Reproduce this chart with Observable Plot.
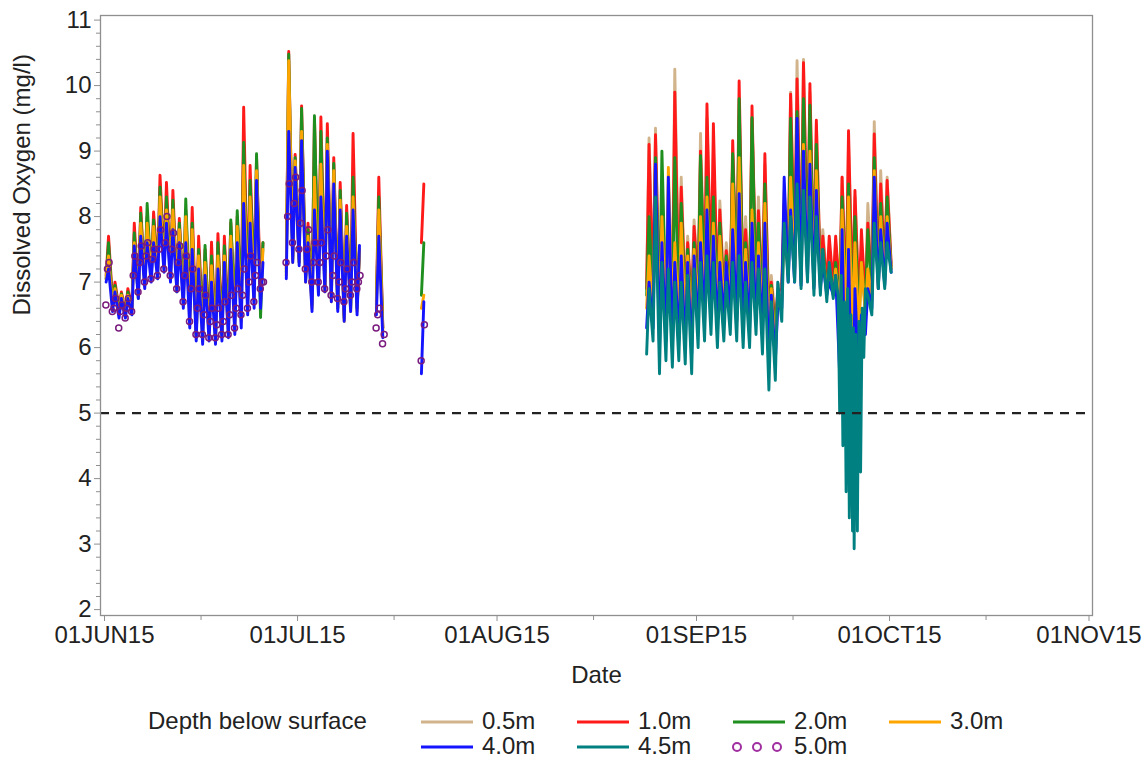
<!DOCTYPE html>
<html><head><meta charset="utf-8">
<script src="https://cdn.jsdelivr.net/npm/d3@7"></script>
<script src="https://cdn.jsdelivr.net/npm/@observablehq/plot@0.6"></script>
<style>
body{margin:0;background:#fff;font-family:"Liberation Sans",Arial,sans-serif;}
#wrap{width:1148px;}
#wrap svg{display:block;}
</style></head><body><div id="wrap"></div>
<script>
// ---------- tick labels & legend ----------
const yTicks = [2,3,4,5,6,7,8,9,10,11];
const xTickDates = ["2015-06-01","2015-07-01","2015-08-01","2015-09-01","2015-10-01","2015-11-01"];
const xTickLabels = ["01JUN15","01JUL15","01AUG15","01SEP15","01OCT15","01NOV15"];
const xMinorDates = ["2015-06-16","2015-07-16","2015-08-16","2015-09-16","2015-10-16"];
const depths = ["0.5m","1.0m","2.0m","3.0m","4.0m","4.5m","5.0m"];
const depthColors = ["#D2B48C","#FF1A1A","#1F8F1F","#FFA500","#1414FF","#008080","#A030A0"];
const threshold = [5];

// ---------- period 1: 01JUN - 20JUL (daily 06h low / 15h high) ----------
const p1Segments = [["2015-06-01",25],["2015-06-29",12],["2015-07-13",2],["2015-07-20",1]];
const r1Hi = [7.7,7.0,6.85,6.9,7.9,8.14,8.0,8.07,8.63,8.52,8.4,7.97,8.1,8.14,7.7,7.5,7.61,7.74,7.7,7.91,8.0,9.67,8.78,8.9,7.6, 10.52,8.95,9.69,7.9,9.5,9.52,9.42,8.9,8.52,8.17,9.27,7.5, 8.6,null, 8.5];
const g1Hi = [7.6,6.95,6.82,6.85,7.75,8.05,8.2,7.95,8.45,8.3,8.25,7.9,8.27,7.9,7.5,7.56,7.4,7.6,7.55,7.95,8.09,9.13,8.55,8.96,7.6, 10.48,8.9,9.65,7.8,9.54,9.3,9.2,8.81,8.4,8.05,8.6,7.5, 8.3,null, 7.6];
const o1Hi = [7.4,6.9,6.8,6.8,7.6,7.9,7.9,7.85,8.3,8.1,8.1,7.8,8.0,7.8,7.4,7.3,7.25,7.4,7.4,7.7,7.85,8.78,8.3,8.7,7.5, 10.38,8.85,9.3,7.7,8.6,8.8,9.1,8.7,8.25,7.85,8.3,7.5, 8.1,null, 6.8];
const b1Hi = [7.2,6.85,6.75,6.75,7.55,7.7,7.6,7.6,8.0,7.9,7.8,7.6,7.6,7.5,7.2,7.1,7.0,7.2,7.3,7.5,7.6,8.2,7.9,8.55,7.3, 9.3,8.75,9.16,7.6,8.1,8.3,9.0,8.5,8.1,7.7,8.1,7.56, 7.7,null, 6.7];
const r1Lo = [7.1,6.7,6.6,6.55,6.6,6.8,7.0,7.1,7.2,7.3,7.1,6.9,6.8,6.6,6.2,6.4,6.3,6.2,6.25,6.4,6.5,6.7,6.8,7.0,6.8, 7.2,7.4,7.35,7.1,6.7,6.95,6.95,6.8,6.65,6.5,6.65,6.6, 6.7,6.3, 7.6];
const g1Lo = [7.05,6.65,6.55,6.5,6.6,6.75,6.95,7.05,7.15,7.25,7.05,6.85,6.75,6.55,6.15,6.35,6.25,6.15,6.2,6.35,6.45,6.65,6.75,6.95,6.46, 7.15,7.35,7.3,7.05,6.65,6.9,6.9,6.75,6.6,6.45,6.6,6.6, 6.65,6.3, 6.8];
const o1Lo = [7.05,6.6,6.5,6.5,6.55,6.8,6.95,7.05,7.1,7.2,7.05,6.9,6.65,6.35,6.15,6.1,6.15,6.1,6.15,6.2,6.25,6.4,6.6,6.7,6.7, 7.1,7.3,7.3,7.0,6.6,6.85,6.85,6.7,6.6,6.4,6.55,6.55, 6.6,6.25, 6.6];
const b1Lo = [7.0,6.55,6.45,6.45,6.5,6.75,6.9,7.0,7.05,7.15,7.0,6.85,6.6,6.3,6.1,6.05,6.1,6.05,6.1,6.15,6.2,6.3,6.5,6.6,6.6, 7.05,7.3,7.25,7.0,6.55,6.8,6.85,6.7,6.55,6.4,6.55,6.5, 6.5,6.15, 5.6];
// 5.0m markers (05h / 11h / 17h)
const p5Lo  = [6.65,6.55,6.3,6.45,6.55,6.85,7.0,7.05,7.1,7.2,7.1,6.9,6.7,6.4,6.2,6.2,6.15,6.15,6.2,6.2,6.3,6.5,6.6,6.7,6.9, 7.3,7.6,7.5,7.2,7.0,7.0,6.9,6.8,6.75,6.7,6.8,6.9, 6.3,6.06, 5.8];
const p5Mid = [7.2,6.6,6.55,6.6,7.1,7.3,7.4,7.35,7.5,7.6,7.5,7.3,7.1,6.9,6.6,6.5,6.4,6.35,6.4,6.5,6.6,6.8,7.0,7.1,7.0, 8.0,8.2,7.9,7.5,7.3,7.3,7.4,7.1,7.0,6.9,7.0,7.0, 6.5,6.2, null];
const p5Hi  = [7.3,6.75,6.65,6.75,7.4,7.55,7.6,7.5,7.8,8.0,7.75,7.55,7.4,7.2,6.9,6.8,6.6,6.6,6.7,6.8,6.9,7.2,7.4,7.3,7.0, 8.5,8.6,8.4,7.8,7.6,7.6,7.8,7.4,7.3,7.2,7.3,7.1, 6.6,null, 6.35];

// ---------- period 2: 24AUG - 01OCT ----------
const p2Segments = [["2015-08-24",39]];
const t2Hi = [9.2,9.35,8.4,8.5,10.25,8.6,7.7,7.95,9.27,9.5, 9.0,8.24,7.6,8.9,9.54,8.0,9.5,8.3,8.8,7.1, 6.9,8.4,9.9,10.38,10.4,9.9,9.4,7.8,7.4,7.6, 8.6,9.1,8.3,7.5,8.2,9.45,8.7,8.6,null];
const r2Hi = [9.1,9.25,8.2,8.2,9.9,8.45,7.6,7.85,9.0,9.72, 9.42,8.1,7.48,9.16,10.07,7.8,9.69,8.09,8.96,7.0, 6.85,8.2,9.87,10.1,10.35,10.03,9.47,7.7,7.7,7.7, 8.6,9.31,8.4,7.8,7.9,9.26,8.5,8.55,null];
const g2Hi = [8.0,8.9,9.0,8.1,8.9,8.2,7.5,7.6,8.93,8.6, 8.3,7.9,7.4,8.96,9.8,7.6,9.51,7.9,8.5,6.95, 6.8,8.0,9.5,9.6,9.8,9.7,9.1,7.5,7.2,7.3, 8.3,8.5,8.0,7.3,7.8,8.9,8.2,8.3,null];
const o2Hi = [7.4,8.7,8.0,8.75,7.6,7.9,7.4,7.5,8.0,8.3, 7.9,7.7,7.3,8.5,8.9,7.5,8.1,7.6,8.2,6.9, 6.75,7.9,8.6,9.0,9.1,9.0,8.7,7.4,7.1,7.2, 8.1,8.3,7.6,7.3,7.2,8.7,8.0,8.0,null];
const b2Hi = [7.0,8.8,7.6,8.6,7.3,7.4,7.3,7.4,7.6,8.1, 7.7,7.3,7.3,7.8,8.35,7.3,7.9,7.4,7.9,6.8, 6.6,8.6,8.1,9.5,9.0,8.8,8.4,7.3,7.0,7.1, 7.8,7.5,6.9,6.5,6.9,8.6,7.8,7.9,null];
const c2Hi = [6.9,8.3,7.3,7.2,7.0,7.0,7.1,7.2,7.3,7.4, 7.3,7.0,7.0,7.3,7.4,7.0,7.3,7.2,7.2,6.7, 7.0,7.9,8.0,8.5,8.4,8.3,8.0,7.5,7.3,7.1, null,null,null,null,6.8,7.9,7.6,7.6,null];
const t2Lo = [7.0,6.9,6.7,6.8,6.8,6.9,6.8,6.7,7.0,7.0, 7.1,6.9,6.9,7.0,7.0,6.9,6.9,7.0,6.8,6.5, 6.4,7.0,7.4,7.4,7.3,7.4,7.2,7.1,7.0,7.0, 6.9,6.9,6.8,6.7,6.8,7.0,7.2,7.3,7.3];
const r2Lo = [6.9,6.8,6.6,6.7,6.7,6.8,6.7,6.6,6.9,6.9, 7.0,6.8,6.8,6.9,6.9,6.8,6.8,6.9,6.7,6.4, 6.3,6.9,7.3,7.3,7.2,7.3,7.1,7.05,6.95,6.95, 6.8,6.7,6.7,6.6,6.7,6.9,7.1,7.2,7.25];
const g2Lo = [6.8,6.7,6.5,6.6,6.6,6.6,6.6,6.5,6.8,6.8, 6.9,6.7,6.7,6.8,6.8,6.7,6.7,6.8,6.6,6.3, 6.2,6.8,7.2,7.2,7.1,7.2,7.0,7.0,6.9,6.9, 6.7,6.6,6.5,6.4,6.6,6.8,7.0,7.1,7.2];
const o2Lo = [6.6,6.5,6.3,6.4,6.4,6.4,6.4,6.3,6.6,6.6, 6.7,6.5,6.6,6.7,6.6,6.5,6.5,6.6,6.4,6.1, 6.0,6.7,7.1,7.1,7.0,7.1,6.95,6.95,6.85,6.85, 6.6,6.4,6.3,6.2,6.5,6.7,6.9,7.0,7.2];
const b2Lo = [6.3,6.3,6.0,6.1,6.0,6.1,6.0,5.9,6.3,6.4, 6.5,6.3,6.4,6.5,6.4,6.3,6.3,6.4,6.2,5.7, 5.8,6.6,7.0,7.0,6.95,7.05,6.9,6.9,6.8,6.8, 5.6,4.6,4.4,5.4,6.2,6.6,6.9,6.95,7.15];
const c2Lo = [5.9,6.1,5.6,5.8,5.7,5.8,5.75,5.6,6.0,6.1, 6.2,6.0,6.1,6.2,6.1,6.0,6.0,6.2,5.9,5.35, 5.5,6.4,7.0,7.0,6.9,7.0,6.8,6.8,6.7,6.75, null,null,null,null,null,6.5,6.9,6.9,7.15];
// 4.5m detail through the low-oxygen event (23-27 SEP)
const dipTimes = ["2015-09-23T00","2015-09-23T06","2015-09-23T12","2015-09-23T18","2015-09-24T00","2015-09-24T06","2015-09-24T12","2015-09-24T18","2015-09-25T00","2015-09-25T06","2015-09-25T09","2015-09-25T12","2015-09-25T18","2015-09-26T00","2015-09-26T06","2015-09-26T12","2015-09-26T18","2015-09-27T00","2015-09-27T06"];
const dipTeal  = [6.8,5.0,7.1,4.5,6.7,3.8,6.9,3.4,6.5,3.2,6.3,2.93,6.2,3.2,6.4,4.1,6.6,5.85,6.9];

// ---------- build table ----------
function expand(segs){
  const out=[];
  segs.forEach(([s,n],k)=>{const d0=new Date(s+"T00:00:00Z");for(let i=0;i<n;i++)out.push({date:d3.utcDay.offset(d0,i),seg:k});});
  return out;
}
const P1 = expand(p1Segments), P2 = expand(p2Segments);
const rows = [];
function addLine(series, period, pname, lo, hi){
  period.forEach((d,i)=>{
    const key = series+"|"+pname+d.seg;
    if(lo[i]!=null) rows.push({series,key,t:d3.utcHour.offset(d.date,6),v:lo[i]});
    if(hi[i]!=null) rows.push({series,key,t:d3.utcHour.offset(d.date,15),v:hi[i]});
  });
}
addLine("0.5m",P2,"b",t2Lo,t2Hi);
addLine("1.0m",P1,"a",r1Lo,r1Hi); addLine("1.0m",P2,"b",r2Lo,r2Hi);
addLine("2.0m",P1,"a",g1Lo,g1Hi); addLine("2.0m",P2,"b",g2Lo,g2Hi);
addLine("3.0m",P1,"a",o1Lo,o1Hi); addLine("3.0m",P2,"b",o2Lo,o2Hi);
addLine("4.0m",P1,"a",b1Lo,b1Hi); addLine("4.0m",P2,"b",b2Lo,b2Hi);
addLine("4.5m",P2,"b",c2Lo,c2Hi);
dipTimes.forEach((s,i)=>rows.push({series:"4.5m",key:"4.5m|b0",t:new Date(s+":00:00Z"),v:dipTeal[i]}));
rows.sort((a,b)=>a.t-b.t);

const dots = [];
P1.forEach((d,i)=>{
  [[5,p5Lo],[11,p5Mid],[17,p5Hi]].forEach(([h,arr])=>{ if(arr[i]!=null) dots.push({t:d3.utcHour.offset(d.date,h),v:arr[i]}); });
});

const col = Object.fromEntries(depths.map((d,i)=>[d,depthColors[i]]));
const pd = s => new Date(s+"T00:00:00Z");
const xMaj = xTickDates.map(pd), xMin = xMinorDates.map(pd);
const yMinor = d3.range(2,11.001,0.2).filter(v=>Math.abs(v-Math.round(v))>0.01);
const FONT = "Liberation Sans, Arial, sans-serif";
const AX = "#8f8f8f", TXT = "#222";

const lineMarks = depths.slice(0,6).map(s =>
  Plot.line(rows.filter(r=>r.series===s), {x:"t", y:"v", z:"key", stroke: col[s], strokeWidth: 2.9}));

const plot = Plot.plot({
  width: 1148, height: 700,
  marginLeft: 100, marginRight: 56, marginTop: 15, marginBottom: 85,
  style: {fontFamily: FONT, background: "#fff", color: TXT},
  x: {type: "utc", domain: [new Date(Date.UTC(2015,4,31,9)), new Date(Date.UTC(2015,10,1,13))]},
  y: {domain: [1.91, 11.07]},
  marks: [
    ...lineMarks,
    Plot.dot(dots, {x:"t", y:"v", r:3, stroke: "#7A1C7E", strokeWidth:1.5, fill:"none"}),
    Plot.ruleY(threshold, {stroke:"#222", strokeWidth:2.2, strokeDasharray:"9,7"}),
    Plot.frame({stroke: AX, strokeWidth: 1.3}),
    Plot.axisY(yTicks, {tickSize:6, tickPadding:3, fontSize:24, label:null, stroke:AX, fill:TXT, tickFormat: d => String(d)}),
    Plot.axisY(yMinor, {tickSize:4, tickFormat:()=>"", label:null, stroke:AX}),
    Plot.axisX(xMaj, {tickSize:6, tickPadding:4, fontSize:24, label:null, stroke:AX, fill:TXT,
      tickFormat: d => xTickLabels[xMaj.findIndex(x=>+x===+d)]}),
    Plot.axisX(xMin, {tickSize:5, tickFormat:()=>"", label:null, stroke:AX}),
    Plot.text(["Dissolved Oxygen (mg/l)"], {text:d=>d, frameAnchor:"left", dx:-78, rotate:-90, fontSize:24, fill:TXT}),
    Plot.text(["Date"], {text:d=>d, frameAnchor:"bottom", dy:67, fontSize:24, fill:TXT})
  ]
});
document.getElementById("wrap").appendChild(plot);

// ---------- legend ----------
const leg = d3.select("#wrap").append("svg").attr("width",1148).attr("height",65)
  .style("font-family",FONT).style("font-size","24px");
leg.append("text").attr("x",148).attr("y",23).attr("dominant-baseline","middle").attr("fill",TXT).text("Depth below surface");
depths.forEach((d,i)=>{
  const c = i%4, r = Math.floor(i/4);
  const x0 = 421 + 156*c, y = 22 + 25*r;
  if(d==="5.0m"){
    [4,24,44].forEach(o=>leg.append("circle").attr("cx",x0+o).attr("cy",y).attr("r",4).attr("fill","none").attr("stroke",depthColors[i]).attr("stroke-width",2));
  } else {
    leg.append("line").attr("x1",x0).attr("x2",x0+52).attr("y1",y).attr("y2",y).attr("stroke",depthColors[i]).attr("stroke-width",3);
  }
  leg.append("text").attr("x",x0+61).attr("y",y+1).attr("dominant-baseline","middle").attr("fill",TXT).text(d);
});
</script></body></html>
